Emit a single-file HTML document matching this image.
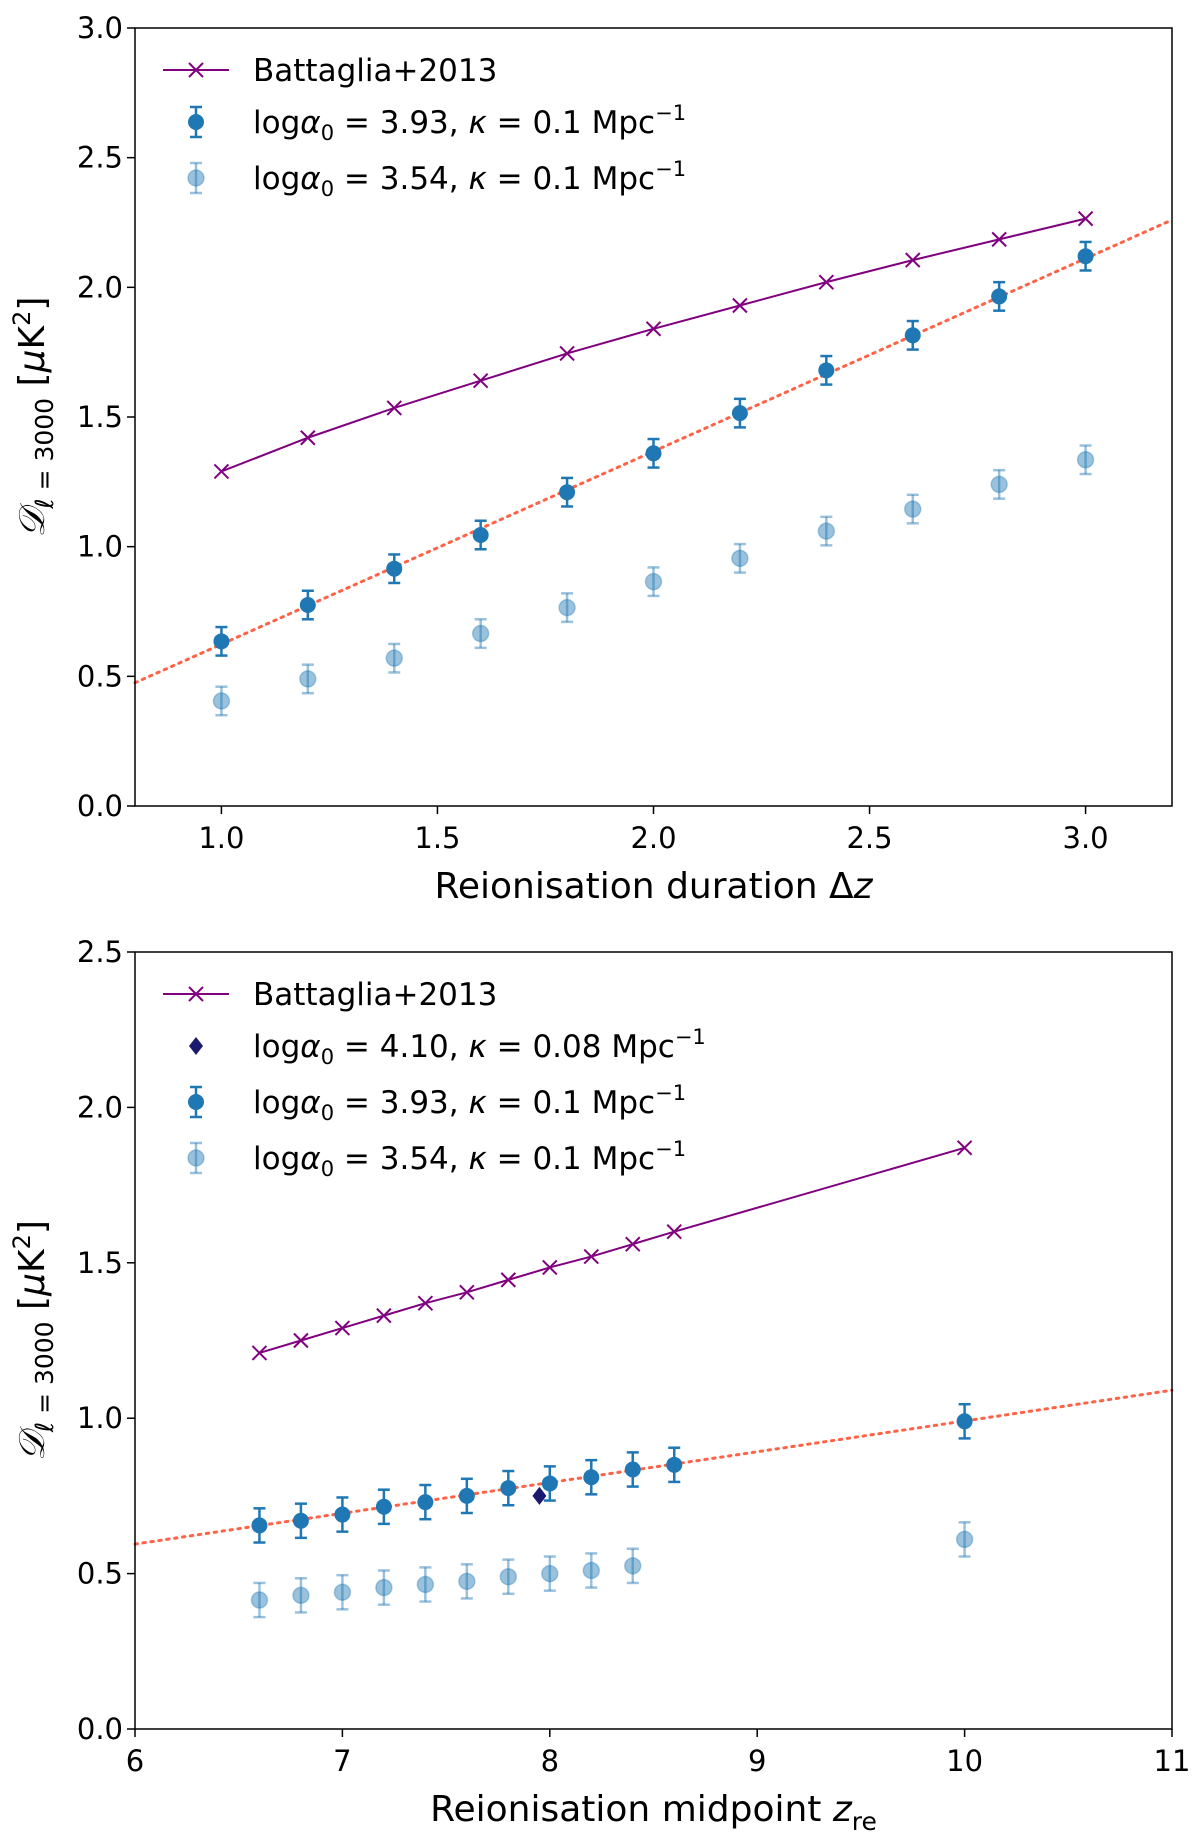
<!DOCTYPE html>
<html><head><meta charset="utf-8"><style>
body{margin:0;background:#fff}
svg{display:block;font-family:"DejaVu Sans","Liberation Sans",sans-serif}
</style></head><body>
<svg id="c" width="1200" height="1840" viewBox="0 0 1200 1840"></svg>
<script>
// ---- top panel data ----
const topX=[1.0,1.2,1.4,1.6,1.8,2.0,2.2,2.4,2.6,2.8,3.0];
const topBatt=[1.29,1.42,1.535,1.64,1.745,1.84,1.93,2.02,2.105,2.185,2.265];
const topDark=[0.635,0.775,0.915,1.045,1.21,1.36,1.515,1.68,1.815,1.965,2.12];
const topDarkErr=[0.055,0.055,0.055,0.055,0.055,0.055,0.055,0.055,0.055,0.055,0.055];
const topLight=[0.405,0.49,0.57,0.665,0.765,0.865,0.955,1.06,1.145,1.24,1.335];
const topLightErr=[0.055,0.055,0.055,0.055,0.055,0.055,0.055,0.055,0.055,0.055,0.055];
const topFitX=[0.8,3.2];
const topFitY=[0.475,2.26];
const topXTicks=[1.0,1.5,2.0,2.5,3.0];
const topYTicks=[0.0,0.5,1.0,1.5,2.0,2.5,3.0];
// ---- bottom panel data ----
const botX=[6.6,6.8,7.0,7.2,7.4,7.6,7.8,8.0,8.2,8.4,8.6,10];
const botBatt=[1.21,1.25,1.29,1.33,1.37,1.405,1.445,1.485,1.52,1.56,1.6,1.87];
const botDark=[0.655,0.67,0.69,0.715,0.73,0.75,0.775,0.79,0.81,0.835,0.85,0.99];
const botDarkErr=[0.055,0.055,0.055,0.055,0.055,0.055,0.055,0.055,0.055,0.055,0.055,0.055];
const botLightX=[6.6,6.8,7.0,7.2,7.4,7.6,7.8,8.0,8.2,8.4,10];
const botLight=[0.415,0.43,0.44,0.455,0.465,0.475,0.49,0.5,0.51,0.525,0.61];
const botLightErr=[0.055,0.055,0.055,0.055,0.055,0.055,0.055,0.055,0.055,0.055,0.055];
const botDiamondX=[7.95];
const botDiamondY=[0.75];
const botFitX=[6,11];
const botFitY=[0.595,1.09];
const botXTicks=[6,7,8,9,10,11];
const botYTicks=[0.0,0.5,1.0,1.5,2.0,2.5];

const NS="http://www.w3.org/2000/svg";
const svg=document.getElementById('c');
function mk(t,a,p){const e=document.createElementNS(NS,t);for(const k in a)e.setAttribute(k,a[k]);(p||svg).appendChild(e);return e;}
const PURPLE="#800080",BLUE="#1f77b4",FIT="#ff6347";

function cross(g,x,y){const s=7;
  const e=mk('path',{d:`M${x-s},${y-s}L${x+s},${y+s}M${x-s},${y+s}L${x+s},${y-s}`,stroke:PURPLE,'stroke-width':2,fill:'none'},g);
  }
function errpt(g,x,y0,y1,yc,alpha,name){
  const grp=mk('g',{},g);
  
  const o={opacity:alpha};
  mk('line',Object.assign({x1:x,x2:x,y1:y0,y2:y1,stroke:BLUE,'stroke-width':2.5},o),grp);
  mk('line',Object.assign({x1:x-6,x2:x+6,y1:y0,y2:y0,stroke:BLUE,'stroke-width':2.5},o),grp);
  mk('line',Object.assign({x1:x-6,x2:x+6,y1:y1,y2:y1,stroke:BLUE,'stroke-width':2.5},o),grp);
  mk('circle',Object.assign({cx:x,cy:yc,r:8,fill:BLUE},o),grp);
  if(alpha<1) mk('circle',{cx:x,cy:yc,r:8,fill:'none',stroke:BLUE,'stroke-opacity':0.35,'stroke-width':1.5},grp);
}
function legendText(g,x,y,parts){
  const t=mk('text',{x:x,y:y,'font-size':31,fill:'#000'},g);
  
  parts.forEach(p=>{const s=mk('tspan',p.a||{},t);s.textContent=p.t;});
}
function labelParts(a,k){return [{t:'log'},{t:'α',a:{'font-style':'italic'}},{t:'0',a:{'font-size':21,dy:7}},{t:' = '+a+', ',a:{dy:-7}},{t:'κ',a:{'font-style':'italic'}},{t:' = '+k+' Mpc'},{t:'−1',a:{'font-size':21,dy:-13}}];}

function panel(o){
  const g=mk('g',{});
  const X=v=>o.L+(v-o.xmin)/(o.xmax-o.xmin)*(o.R-o.L);
  const Y=v=>o.B-(v-o.ymin)/(o.ymax-o.ymin)*(o.B-o.T);
  const f=mk('line',{x1:X(o.fitX[0]),y1:Y(o.fitY[0]),x2:X(o.fitX[1]),y2:Y(o.fitY[1]),stroke:FIT,'stroke-width':3,'stroke-dasharray':'2.5,5.5','stroke-linecap':'round'},g);
  
  o.lx.forEach((x,i)=>errpt(g,X(x),Y(o.light[i]+o.lightErr[i]),Y(o.light[i]-o.lightErr[i]),Y(o.light[i]),0.45,'light-point'));
  o.x.forEach((x,i)=>errpt(g,X(x),Y(o.dark[i]+o.darkErr[i]),Y(o.dark[i]-o.darkErr[i]),Y(o.dark[i]),1,'dark-point'));
  const pl=mk('polyline',{points:o.x.map((x,i)=>X(x)+','+Y(o.batt[i])).join(' '),fill:'none',stroke:PURPLE,'stroke-width':2},g);
  
  o.x.forEach((x,i)=>cross(g,X(x),Y(o.batt[i])));
  if(o.dx){o.dx.forEach((x,i)=>{const cx=X(x),cy=Y(o.dy[i]);const d=mk('path',{d:`M${cx},${cy-9}L${cx+7},${cy}L${cx},${cy+9}L${cx-7},${cy}Z`,fill:'#191970'},g);
    });}
  const fr=mk('rect',{x:o.L,y:o.T,width:o.R-o.L,height:o.B-o.T,fill:'none',stroke:'#000','stroke-width':1.5},g);
  
  o.xt.forEach(v=>{const x=X(v);mk('line',{x1:x,x2:x,y1:o.B,y2:o.B+8,stroke:'#000','stroke-width':1.5},g);
    const t=mk('text',{x:x,y:o.B+42,'text-anchor':'middle','font-size':29},g);t.textContent=o.xfmt(v);
    });
  o.yt.forEach(v=>{const y=Y(v);mk('line',{x1:o.L-8,x2:o.L,y1:y,y2:y,stroke:'#000','stroke-width':1.5},g);
    const t=mk('text',{x:o.L-12,y:y+10,'text-anchor':'end','font-size':29},g);t.textContent=v.toFixed(1);
    });
  const xt=mk('text',{x:(o.L+o.R)/2,y:o.B+92,'text-anchor':'middle','font-size':36},g);
  
  o.xtitle.forEach(p=>{const s=mk('tspan',p.a||{},xt);s.textContent=p.t;});
  const cy=(o.T+o.B)/2;
  const yt=mk('text',{transform:`translate(44,${cy}) rotate(-90)`,'text-anchor':'middle','font-size':36},g);
  
  [{t:'𝒟',a:{'font-style':'italic'}},{t:'ℓ = 3000',a:{'font-size':25,dy:9}},{t:' [',a:{dy:-9}},{t:'μ',a:{'font-style':'italic'}},{t:'K'},{t:'2',a:{'font-size':24,dy:-14}},{t:']',a:{dy:14}}].forEach(p=>{const s=mk('tspan',p.a||{},yt);s.textContent=p.t;});
  const lg=mk('g',{},g);
  let ly=o.T+42;const lx=o.L+28;
  mk('line',{x1:lx,x2:lx+66,y1:ly,y2:ly,stroke:PURPLE,'stroke-width':2},lg);cross(lg,lx+33,ly);
  legendText(lg,lx+90,ly+11,[{t:'Battaglia+2013'}]);
  if(o.dx){ly+=52;const cx=lx+33;mk('path',{d:`M${cx},${ly-9}L${cx+7},${ly}L${cx},${ly+9}L${cx-7},${ly}Z`,fill:'#191970'},lg);
    legendText(lg,lx+90,ly+11,labelParts('4.10','0.08'));}
  ly+=(o.dx?56:52);errpt(lg,lx+33,ly-15,ly+15,ly,1,'legend-dark-marker');legendText(lg,lx+90,ly+11,labelParts('3.93','0.1'));
  ly+=56;errpt(lg,lx+33,ly-15,ly+15,ly,0.45,'legend-light-marker');legendText(lg,lx+90,ly+11,labelParts('3.54','0.1'));
}
panel({name:'duration-panel',L:135,R:1172,T:28,B:806,xmin:0.8,xmax:3.2,ymin:0,ymax:3,
  x:topX,lx:topX,batt:topBatt,dark:topDark,darkErr:topDarkErr,light:topLight,lightErr:topLightErr,
  fitX:topFitX,fitY:topFitY,xt:topXTicks,yt:topYTicks,xfmt:v=>v.toFixed(1),
  xtitle:[{t:'Reionisation duration Δ'},{t:'z',a:{'font-style':'italic'}}]});
panel({name:'midpoint-panel',L:135,R:1172,T:952,B:1729,xmin:6,xmax:11,ymin:0,ymax:2.5,
  x:botX,lx:botLightX,batt:botBatt,dark:botDark,darkErr:botDarkErr,light:botLight,lightErr:botLightErr,
  dx:botDiamondX,dy:botDiamondY,
  fitX:botFitX,fitY:botFitY,xt:botXTicks,yt:botYTicks,xfmt:v=>String(v),
  xtitle:[{t:'Reionisation midpoint '},{t:'z',a:{'font-style':'italic'}},{t:'re',a:{'font-size':25,dy:9}}]});
</script>
</body></html>
